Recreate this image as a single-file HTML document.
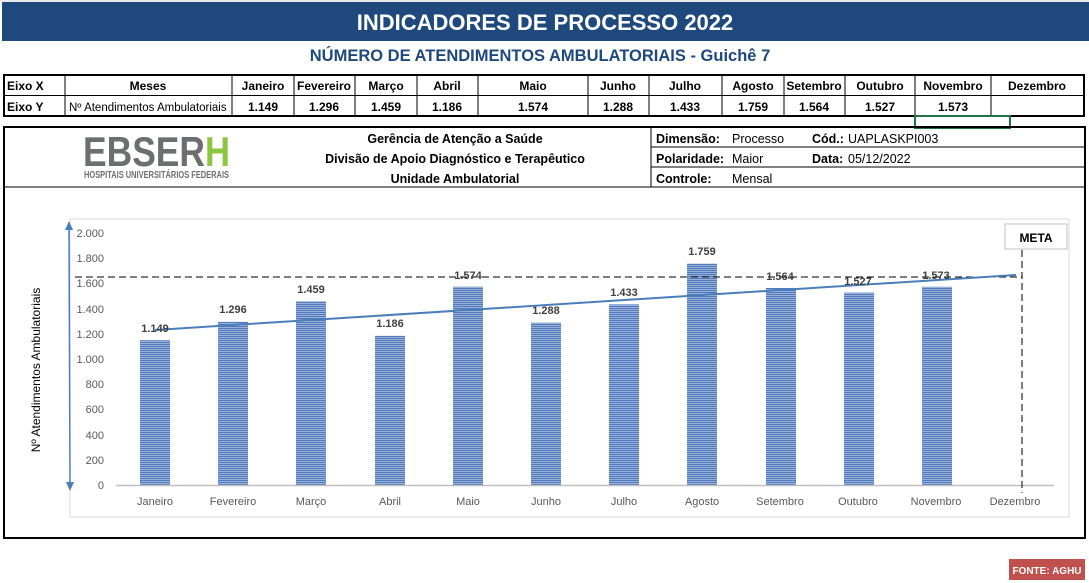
<!DOCTYPE html>
<html><head><meta charset="utf-8"><style>
html,body{margin:0;padding:0;background:#fff;}
svg{display:block;font-family:"Liberation Sans",sans-serif;}
</style></head><body>
<svg width="1089" height="583" viewBox="0 0 1089 583" xmlns="http://www.w3.org/2000/svg">
<defs>
<pattern id="st" width="4" height="2" patternUnits="userSpaceOnUse">
<rect width="4" height="2" fill="#c9d5ea"/><rect width="4" height="1.4" fill="#5279bd"/>
</pattern>
</defs>
<line x1="0" y1="1" x2="1089" y2="1" stroke="#d4d4d4"/>
<rect x="2" y="2" width="1087" height="39" fill="#1f497d"/>
<text x="545" y="30" text-anchor="middle" fill="#fff" font-size="22" font-weight="bold">INDICADORES DE PROCESSO 2022</text>
<text x="540" y="61" text-anchor="middle" fill="#1f497d" font-size="16.5" font-weight="bold">NÚMERO DE ATENDIMENTOS AMBULATORIAIS -  Guichê 7</text>
<g stroke="#000" fill="none">
<rect x="4" y="75" width="1080" height="41" stroke-width="2"/>
<line x1="4" y1="95.5" x2="1084" y2="95.5"/>
<line x1="65" y1="75" x2="65" y2="116"/><line x1="232" y1="75" x2="232" y2="116"/>
<line x1="294" y1="75" x2="294" y2="116"/><line x1="355" y1="75" x2="355" y2="116"/>
<line x1="417" y1="75" x2="417" y2="116"/><line x1="478" y1="75" x2="478" y2="116"/>
<line x1="588" y1="75" x2="588" y2="116"/><line x1="649" y1="75" x2="649" y2="116"/>
<line x1="722" y1="75" x2="722" y2="116"/><line x1="784" y1="75" x2="784" y2="116"/>
<line x1="845" y1="75" x2="845" y2="116"/><line x1="915" y1="75" x2="915" y2="116"/>
<line x1="991" y1="75" x2="991" y2="116"/>
</g>
<rect x="915" y="116" width="95" height="12" fill="none" stroke="#217346" stroke-width="2"/>
<g font-size="12" font-weight="bold" fill="#000" text-anchor="middle">
<text x="7" y="90" text-anchor="start">Eixo X</text><text x="7" y="111" text-anchor="start">Eixo Y</text>
<text x="148" y="90">Meses</text>
<text x="263" y="90">Janeiro</text><text x="324" y="90">Fevereiro</text><text x="386" y="90">Março</text>
<text x="447" y="90">Abril</text><text x="533" y="90">Maio</text><text x="618" y="90">Junho</text>
<text x="685" y="90">Julho</text><text x="753" y="90">Agosto</text><text x="814" y="90">Setembro</text>
<text x="880" y="90">Outubro</text><text x="953" y="90">Novembro</text><text x="1037" y="90">Dezembro</text>
<text x="263" y="111">1.149</text><text x="324" y="111">1.296</text><text x="386" y="111">1.459</text>
<text x="447" y="111">1.186</text><text x="533" y="111">1.574</text><text x="618" y="111">1.288</text>
<text x="685" y="111">1.433</text><text x="753" y="111">1.759</text><text x="814" y="111">1.564</text>
<text x="880" y="111">1.527</text><text x="953" y="111">1.573</text>
</g>
<text x="69" y="111" font-size="11.5" fill="#000">Nº Atendimentos Ambulatoriais</text>
<g stroke="#000" fill="none">
<rect x="4" y="127" width="1081" height="411" stroke-width="2"/>
<line x1="4" y1="187" x2="1085" y2="187"/>
<line x1="651" y1="127" x2="651" y2="187"/>
<line x1="651" y1="147" x2="1085" y2="147"/><line x1="651" y1="167" x2="1085" y2="167"/>
</g>
<text x="83" y="166" font-size="42" font-weight="bold" fill="#6d6e70" textLength="122" lengthAdjust="spacingAndGlyphs">EBSER</text>
<text x="205" y="166" font-size="42" font-weight="bold" fill="#8dc63f" textLength="25" lengthAdjust="spacingAndGlyphs">H</text>
<text x="84" y="178" font-size="10" font-weight="bold" fill="#6d6e70" textLength="145" lengthAdjust="spacingAndGlyphs">HOSPITAIS UNIVERSITÁRIOS FEDERAIS</text>
<g font-size="12.5" font-weight="bold" fill="#000" text-anchor="middle">
<text x="455" y="143">Gerência de Atenção a Saúde</text>
<text x="455" y="163">Divisão de Apoio Diagnóstico e Terapêutico</text>
<text x="455" y="183">Unidade Ambulatorial</text>
</g>
<g font-size="12.5" fill="#000">
<text x="656" y="143" font-weight="bold">Dimensão:</text><text x="732" y="143">Processo</text>
<text x="812" y="143" font-weight="bold">Cód.:</text><text x="848" y="143">UAPLASKPI003</text>
<text x="656" y="163" font-weight="bold">Polaridade:</text><text x="732" y="163">Maior</text>
<text x="812" y="163" font-weight="bold">Data:</text><text x="848" y="163">05/12/2022</text>
<text x="656" y="183" font-weight="bold">Controle:</text><text x="732" y="183">Mensal</text>
</g>
<rect x="70" y="219" width="999" height="298" fill="none" stroke="#d9d9d9"/>
<text transform="translate(40,370) rotate(-90)" font-size="12" fill="#000" text-anchor="middle">Nº Atendimentos Ambulatoriais</text>
<line x1="69" y1="226" x2="70" y2="485" stroke="#4a7ebb" stroke-width="1.5"/>
<polygon points="69,221 65,230 73,230" fill="#4a7ebb"/>
<polygon points="70,491 66,482 74,482" fill="#4a7ebb"/>
<g font-size="11" fill="#595959" text-anchor="end">
<text x="104" y="237">2.000</text><text x="104" y="262">1.800</text><text x="104" y="287">1.600</text>
<text x="104" y="313">1.400</text><text x="104" y="338">1.200</text><text x="104" y="363">1.000</text>
<text x="104" y="388">800</text><text x="104" y="413">600</text><text x="104" y="439">400</text>
<text x="104" y="464">200</text><text x="104" y="489">0</text>
</g>
<g fill="url(#st)">
<rect x="140" y="340.2" width="30" height="144.8"/>
<rect x="218" y="321.7" width="30" height="163.3"/>
<rect x="296" y="301.2" width="30" height="183.8"/>
<rect x="375" y="335.6" width="30" height="149.4"/>
<rect x="453" y="286.7" width="30" height="198.3"/>
<rect x="531" y="322.7" width="30" height="162.3"/>
<rect x="609" y="304.4" width="30" height="180.6"/>
<rect x="687" y="263.4" width="30" height="221.6"/>
<rect x="766" y="287.9" width="30" height="197.1"/>
<rect x="844" y="292.6" width="30" height="192.4"/>
<rect x="922" y="286.8" width="30" height="198.2"/>
</g>
<line x1="116" y1="485.5" x2="1054" y2="485.5" stroke="#bfbfbf" stroke-width="1.5"/>
<line x1="75" y1="277" x2="1022" y2="277" stroke="#000" stroke-dasharray="7,4"/>
<line x1="1022" y1="250" x2="1022" y2="493" stroke="#000" stroke-dasharray="7,4"/>
<rect x="1005" y="224" width="62" height="25" fill="#fff" stroke="#bfbfbf"/>
<text x="1036" y="242" font-size="12" font-weight="bold" text-anchor="middle">META</text>
<line x1="155" y1="330" x2="1016" y2="275" stroke="#4a7ebb" stroke-width="2"/>
<g font-size="11" font-weight="bold" fill="#404040" text-anchor="middle">
<text x="155" y="332">1.149</text><text x="233" y="313">1.296</text><text x="311" y="293">1.459</text>
<text x="390" y="327">1.186</text><text x="468" y="279">1.574</text><text x="546" y="314">1.288</text>
<text x="624" y="296">1.433</text><text x="702" y="255">1.759</text><text x="780" y="280">1.564</text>
<text x="858" y="285">1.527</text><text x="936" y="279">1.573</text>
</g>
<g font-size="11" fill="#595959" text-anchor="middle">
<text x="155" y="505">Janeiro</text><text x="233" y="505">Fevereiro</text><text x="311" y="505">Março</text>
<text x="390" y="505">Abril</text><text x="468" y="505">Maio</text><text x="546" y="505">Junho</text>
<text x="624" y="505">Julho</text><text x="702" y="505">Agosto</text><text x="780" y="505">Setembro</text>
<text x="858" y="505">Outubro</text><text x="936" y="505">Novembro</text><text x="1015" y="505">Dezembro</text>
</g>
<rect x="1009" y="559" width="76" height="21" fill="#c0504d"/>
<text x="1047" y="574" font-size="10" font-weight="bold" fill="#fff" text-anchor="middle">FONTE: AGHU</text>
</svg>
</body></html>
